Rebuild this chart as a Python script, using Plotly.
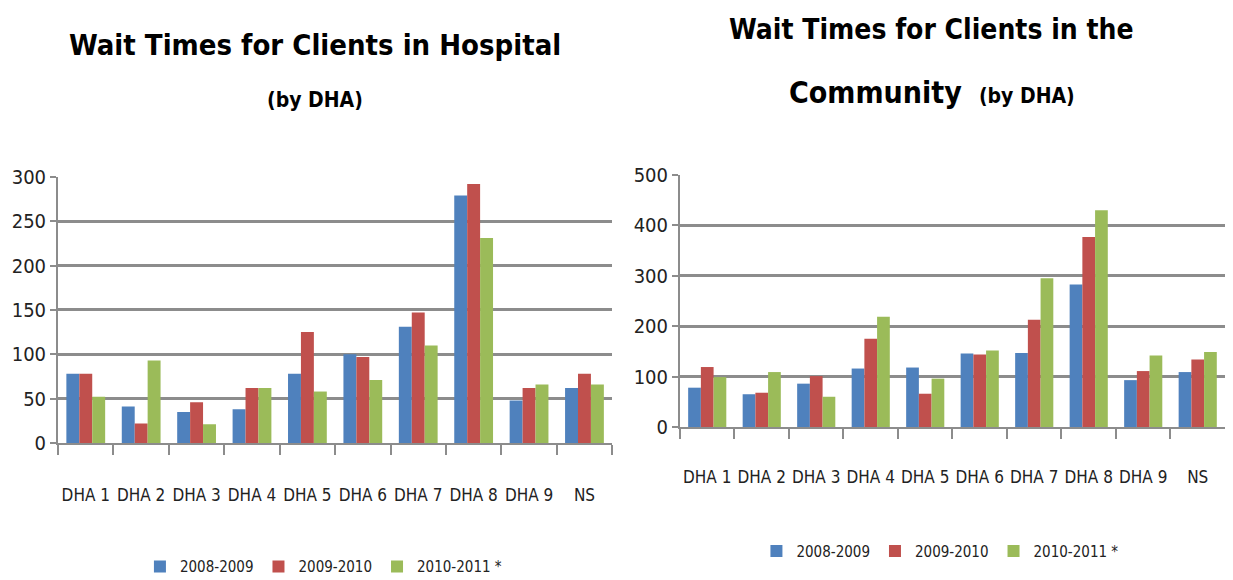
import plotly.graph_objects as go

categories = ["DHA 1", "DHA 2", "DHA 3", "DHA 4", "DHA 5", "DHA 6", "DHA 7", "DHA 8", "DHA 9", "NS"]
series_names = ["2008-2009", "2009-2010", "2010-2011 *"]
colors = ["#4F81BD", "#C0504D", "#9BBB59"]

hospital_0809 = [78, 41, 35, 38, 78, 100, 131, 279, 48, 62]
hospital_0910 = [78, 22, 46, 62, 125, 97, 147, 292, 62, 78]
hospital_1011 = [52, 93, 21, 62, 58, 71, 110, 231, 66, 66]

community_0809 = [78, 65, 86, 116, 118, 146, 147, 283, 93, 109]
community_0910 = [119, 68, 101, 175, 66, 144, 213, 377, 111, 134]
community_1011 = [99, 109, 60, 219, 96, 152, 295, 430, 142, 149]

hospital_ticks = [0, 50, 100, 150, 200, 250, 300]
community_ticks = [0, 100, 200, 300, 400, 500]

FONT = "DejaVu Sans Condensed, Liberation Sans Narrow, Liberation Sans, sans-serif"

fig = go.Figure()
for name, vals, col in zip(series_names, [hospital_0809, hospital_0910, hospital_1011], colors):
    fig.add_trace(go.Bar(x=categories, y=vals, name=name, marker=dict(color=col, line=dict(color=col, width=0)),
                         xaxis="x", yaxis="y", legend="legend"))
for name, vals, col in zip(series_names, [community_0809, community_0910, community_1011], colors):
    fig.add_trace(go.Bar(x=categories, y=vals, name=name, marker=dict(color=col, line=dict(color=col, width=0)),
                         xaxis="x2", yaxis="y2", legend="legend2"))

grid = "#8C8C8C"
common_x = dict(showline=True, linecolor=grid, linewidth=2, ticks="outside", tickson="boundaries",
                ticklen=10, tickcolor=grid, tickwidth=2, tickfont=dict(family=FONT, size=17, color="#222"),
                showgrid=False, tickangle=0, automargin=False)
common_y = dict(showline=True, linecolor=grid, linewidth=2, ticks="outside", ticklen=6, tickcolor=grid,
                tickwidth=2, showgrid=True, gridcolor=grid, gridwidth=2.5, zeroline=False, automargin=False,
                tickfont=dict(family=FONT, size=20, color="#222"))

fig.update_layout(
    width=1233, height=580,
    margin=dict(l=0, r=0, t=0, b=0, autoexpand=False),
    paper_bgcolor="white", plot_bgcolor="white",
    barmode="group", bargap=0.3, bargroupgap=0,
    xaxis=dict(domain=[0.0406, 0.490], anchor="y", ticklabelstandoff=36, **common_x),
    yaxis=dict(domain=[0.25, 0.709], anchor="x", range=[0, 300], tickvals=hospital_ticks, **common_y),
    xaxis2=dict(domain=[0.545, 0.987], anchor="y2", ticklabelstandoff=34, **common_x),
    yaxis2=dict(domain=[0.2776, 0.712], anchor="x2", range=[0, 500], tickvals=community_ticks, **common_y),
    legend=dict(orientation="h", x=0.107, y=0.008, xanchor="left", yanchor="bottom",
                font=dict(family=FONT, size=15, color="#222"), itemwidth=30, traceorder="normal"),
    legend2=dict(orientation="h", x=0.607, y=0.035, xanchor="left", yanchor="bottom",
                 font=dict(family=FONT, size=15, color="#222"), itemwidth=30, traceorder="normal"),
    showlegend=True,
    annotations=[
        dict(text="<b>Wait Times for Clients in Hospital</b>", x=0.249, y=1 - 37 / 580, xref="paper", yref="paper",
             xanchor="center", yanchor="middle",
             showarrow=False, font=dict(family=FONT, size=29, color="black")),
        dict(text="<b>(by DHA)</b>", x=0.249, y=1 - 92 / 580, xref="paper", yref="paper",
             xanchor="center", yanchor="middle",
             showarrow=False, font=dict(family=FONT, size=21, color="black")),
        dict(text="<b>Wait Times for Clients in the</b>", x=0.749, y=1 - 21 / 580, xref="paper", yref="paper",
             xanchor="center", yanchor="middle",
             showarrow=False, font=dict(family=FONT, size=28, color="black")),
        dict(text="<b>Community</b>  <b><span style='font-size:21px'>(by DHA)</span></b>", x=0.749, y=1 - 84 / 580,
             xanchor="center", yanchor="middle",
             xref="paper", yref="paper", showarrow=False, font=dict(family=FONT, size=30, color="black")),
    ],
)

fig.write_html("out.html")
